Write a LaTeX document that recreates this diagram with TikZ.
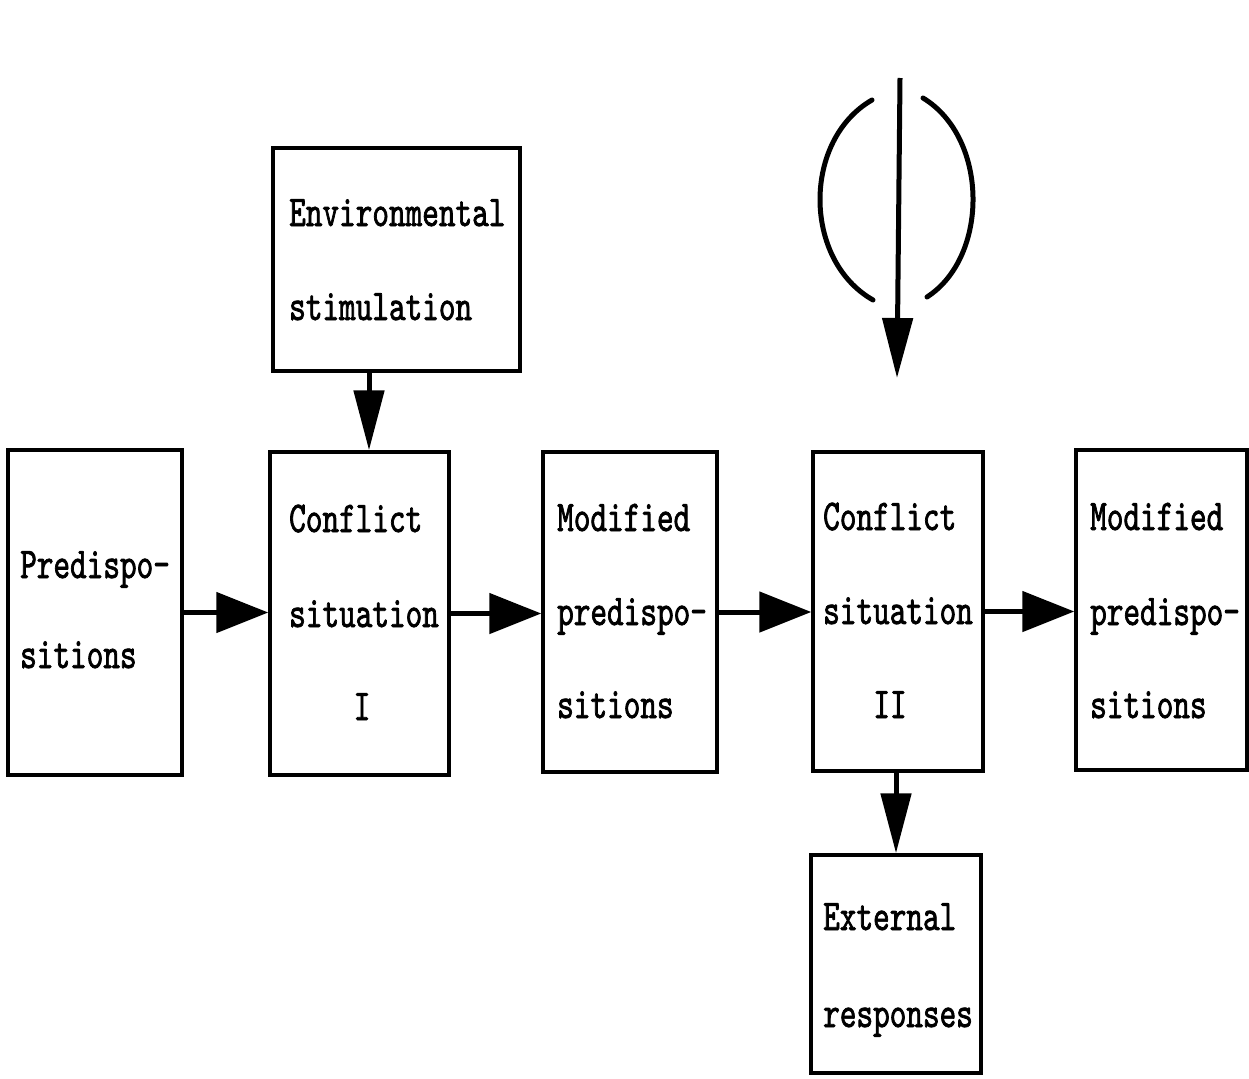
\documentclass[tikz,border=0pt]{standalone}
\usepackage{fontspec}
\newfontfamily\tw{lmmono10-regular.otf}[FakeStretch=0.72, FakeBold=1.6]
\usetikzlibrary{arrows.meta}
\tikzset{
  box/.style={draw, line width=3.5pt, rectangle, inner sep=0pt},
  twfont/.style={font=\tw\fontsize{44}{44}\selectfont},
  lbl/.style={anchor=base west, inner sep=0pt, twfont},
  clbl/.style={anchor=base, inner sep=0pt, twfont},
  hconn/.style={line width=5pt, -{Triangle[length=52pt,width=40pt]}},
  vconn/.style={line width=5pt, -{Triangle[length=60pt,width=30pt]}},
  paren/.style={line width=5pt, line cap=round}
}
\begin{document}
\begin{tikzpicture}[x=1pt,y=-1pt]
\useasboundingbox (0,0) rectangle (1249,1078);
% boxes
\node[box, minimum width=247pt, minimum height=223pt] (env) at (396.5,259.5) {};
\node[box, minimum width=174pt, minimum height=325pt] (pred) at (95,612.5) {};
\node[box, minimum width=179pt, minimum height=323pt] (c1) at (359.5,613.5) {};
\node[box, minimum width=174pt, minimum height=320pt] (m1) at (630,612) {};
\node[box, minimum width=170pt, minimum height=319pt] (c2) at (898,611.5) {};
\node[box, minimum width=171pt, minimum height=320pt] (m2) at (1161.5,610) {};
\node[box, minimum width=170pt, minimum height=218pt] (ext) at (896,964) {};
% labels
\node[lbl] (envA) at (289,226) {Environmental};
\node[lbl] (envB) at (289,320) {stimulation};
\node[lbl] (predA) at (20,578) {Predispo-};
\node[lbl] (predB) at (20,668) {sitions};
\node[lbl] (c1A) at (289,532) {Conflict};
\node[lbl] (c1B) at (289,627) {situation};
\node[clbl] (c1C) at (362,720) {I};
\node[lbl] (m1A) at (557,531) {Modified};
\node[lbl] (m1B) at (557,625) {predispo-};
\node[lbl] (m1C) at (557,718) {sitions};
\node[lbl] (c2A) at (823,530) {Conflict};
\node[lbl] (c2B) at (823,624) {situation};
\node[clbl] (c2C) at (890,718) {II};
\node[lbl] (m2A) at (1090,530) {Modified};
\node[lbl] (m2B) at (1090,625) {predispo-};
\node[lbl] (m2C) at (1090,718) {sitions};
\node[lbl] (extA) at (823,930) {External};
\node[lbl] (extB) at (823,1027) {responses};
% connectors
\draw[hconn] (pred.east) -- (pred.east -| c1.west);
\draw[hconn] (c1.east) -- (c1.east -| m1.west);
\draw[hconn] (m1.east) -- (m1.east -| c2.west);
\draw[hconn] (c2.east) -- (c2.east -| m2.west);
\draw[vconn] ([xshift=9.5pt]c1.north |- env.south) -- ([xshift=9.5pt]c1.north);
\draw[vconn] (c2.south -| ext.north) -- (ext.north);
% top symbol
\coordinate (topstart) at (900,78);
\coordinate (topend) at (897,378);
\draw[vconn] (topstart) -- (topend);
\draw[paren] (872,100) .. controls (802.5,140) and (802.5,260) .. (873,300);
\draw[paren] (923,98) .. controls (989,138) and (989,257) .. (927,297);
\end{tikzpicture}
\end{document}
